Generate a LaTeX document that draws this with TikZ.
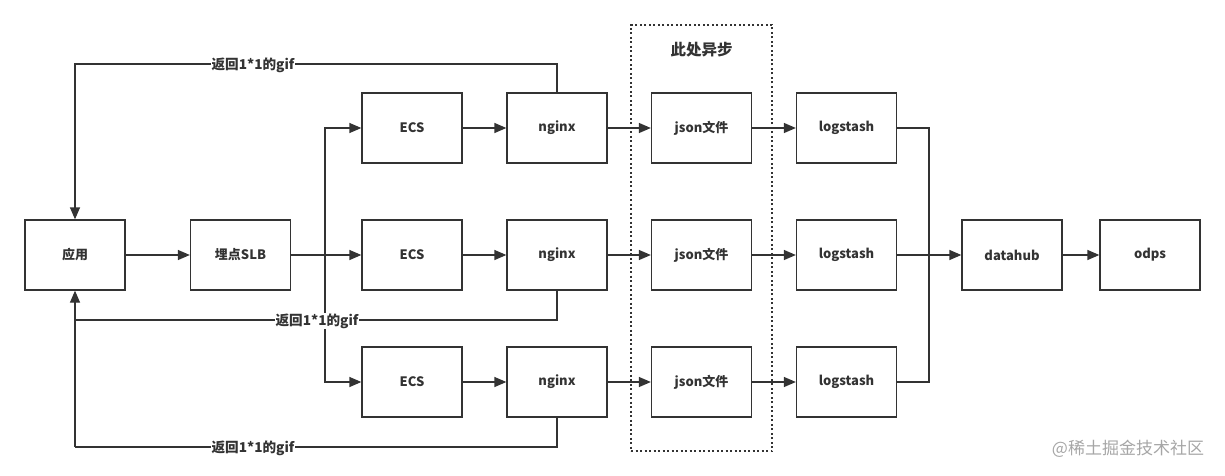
\documentclass[tikz,border=0pt]{standalone}
\usepackage{fontspec}
\setmainfont{Noto Sans CJK SC}
\usetikzlibrary{arrows.meta}
\definecolor{ln}{HTML}{333333}
\begin{document}
\begin{tikzpicture}[x=1pt,y=-1pt,
  box/.style={draw=ln, line width=1.3pt, minimum width=100pt, minimum height=70pt, inner sep=0pt, font=\bfseries\fontsize{13}{15}\selectfont, text=ln},
  con/.style={draw=ln, line width=1.3pt},
  arr/.style={con, -{Triangle[length=12pt,width=10pt]}},
  lbl/.style={fill=white, inner sep=1pt, font=\bfseries\fontsize{13.6}{15}\selectfont, text=ln},
  asyncbox/.style={draw=ln, line width=1.3pt, dash pattern=on 2pt off 2.5pt, minimum width=141pt, minimum height=426pt, inner sep=0pt}]
\useasboundingbox (0,0) rectangle (1225,476);
% async frame
\node[asyncbox] (async) at (701.5,238) {};
\node[font=\bfseries\fontsize{15.5}{18}\selectfont, text=ln] (title) at (701.5,50) {此处异步};
% nodes
\node[box] (app) at (75,255) {\raisebox{-1pt}{应用}};
\node[box] (slb) at (240.5,255) {\raisebox{-1pt}{埋点SLB}};
\node[box] (ecs1) at (412,128) {\raisebox{-1pt}{ECS}};
\node[box] (ecs2) at (412,255) {\raisebox{-1pt}{ECS}};
\node[box] (ecs3) at (412,382) {\raisebox{-1pt}{ECS}};
\node[box] (ngx1) at (557,128) {\raisebox{-1pt}{nginx}};
\node[box] (ngx2) at (557,255) {\raisebox{-1pt}{nginx}};
\node[box] (ngx3) at (557,382) {\raisebox{-1pt}{nginx}};
\node[box] (js1) at (701.5,128) {\raisebox{-1pt}{json文件}};
\node[box] (js2) at (701.5,255) {\raisebox{-1pt}{json文件}};
\node[box] (js3) at (701.5,382) {\raisebox{-1pt}{json文件}};
\node[box] (ls1) at (846.5,128) {\raisebox{-1pt}{logstash}};
\node[box] (ls2) at (846.5,255) {\raisebox{-1pt}{logstash}};
\node[box] (ls3) at (846.5,382) {\raisebox{-1pt}{logstash}};
\node[box] (dh) at (1012,255) {\raisebox{-1pt}{datahub}};
\node[box] (odps) at (1150,255) {\raisebox{-1pt}{odps}};
% connectors
\draw[arr] (app) -- (slb);
\coordinate (br) at (325,255);
\draw[con] (slb.east) -- (br);
\draw[arr] (br) |- (ecs1);
\draw[arr] (br) -- (ecs2);
\draw[arr] (br) |- (ecs3);
\foreach \i in {1,2,3}{
  \draw[arr] (ecs\i) -- (ngx\i);
  \draw[arr] (ngx\i) -- (js\i);
  \draw[arr] (js\i) -- (ls\i);
}
\coordinate (mg) at (929,255);
\draw[con] (ls1.east) -| (mg);
\draw[con] (ls3.east) -| (mg);
\draw[arr] (ls2) -- (dh);
\draw[arr] (dh) -- (odps);
% returns
\coordinate (r1) at (75,64);
\coordinate (r2) at (75,320);
\coordinate (r3) at (75,447);
\draw[arr] (ngx1.north) -- (ngx1.north |- r1) -- (r1) -- (app.north);
\draw[con] (ngx2.south) -- (ngx2.south |- r2) -- (r2);
\draw[con] (ngx3.south) -- (ngx3.south |- r3) -- (r3);
\draw[arr] (r3) -- (app.south);
\node[lbl] (l1) at (253,65) {返回1*1的gif};
\node[lbl] (l2) at (317,321) {返回1*1的gif};
\node[lbl] (l3) at (253,448) {返回1*1的gif};
% watermark
\node[text=black!35, font=\fontsize{17}{20}\selectfont, inner sep=0pt] (wm) at (1128,449) {@稀土掘金技术社区};
\end{tikzpicture}
\end{document}
